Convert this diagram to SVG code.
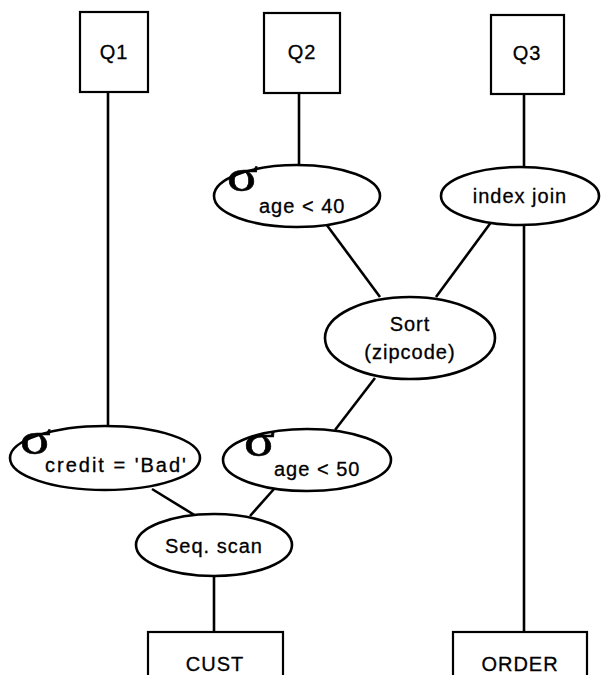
<svg xmlns="http://www.w3.org/2000/svg" width="605" height="675" viewBox="0 0 605 675">
  <style>
    .box { fill: #fff; stroke: #000; stroke-width: 2.2; }
    .op { fill: #fff; stroke: #000; stroke-width: 2.6; }
    .edge { stroke: #000; stroke-width: 2.6; fill: none; }
    .lbl { font-family: "Liberation Sans", Arial, sans-serif; font-size: 20px; fill: #000; stroke: #000; stroke-width: 0.3; text-anchor: middle; letter-spacing: 1px; }
    .sub { font-family: "Liberation Sans", Arial, sans-serif; font-size: 20px; fill: #000; stroke: #000; stroke-width: 0.3; letter-spacing: 1px; }
    .sig { font-family: "Liberation Serif", "DejaVu Serif", serif; font-size: 46px; fill: #000; stroke: #000; stroke-width: 0.6; }
  </style>
  <rect width="605" height="675" fill="#fff"/>

  <!-- plan edges -->
  <g id="connectors">
    <line class="edge" x1="108" y1="92" x2="108" y2="426"/>
    <line class="edge" x1="299" y1="93" x2="299" y2="165"/>
    <line class="edge" x1="524" y1="94" x2="524" y2="167"/>
    <line class="edge" x1="326" y1="224" x2="380" y2="297"/>
    <line class="edge" x1="492" y1="221" x2="436" y2="297"/>
    <line class="edge" x1="375" y1="378" x2="335" y2="430"/>
    <line class="edge" x1="524" y1="225" x2="524" y2="632"/>
    <line class="edge" x1="152" y1="489" x2="196" y2="516"/>
    <line class="edge" x1="274" y1="489" x2="250" y2="516"/>
    <line class="edge" x1="214" y1="575" x2="214" y2="632"/>
  </g>

  <!-- queries -->
  <g id="q1">
    <rect class="box" x="80" y="12" width="68" height="80"/>
    <text class="lbl" x="114" y="59">Q1</text>
  </g>
  <g id="q2">
    <rect class="box" x="264" y="13" width="76" height="80"/>
    <text class="lbl" x="302" y="59">Q2</text>
  </g>
  <g id="q3">
    <rect class="box" x="491" y="15" width="73" height="79"/>
    <text class="lbl" x="527" y="60">Q3</text>
  </g>

  <!-- operators -->
  <g id="select-age40">
    <ellipse class="op" cx="297" cy="196" rx="83" ry="31"/>
    <text class="sig" transform="translate(227,191) scale(1.25,1)">σ</text>
    <text class="sub" x="259" y="213">age &lt; 40</text>
  </g>
  <g id="index-join">
    <ellipse class="op" cx="520" cy="196" rx="79" ry="29"/>
    <text class="lbl" x="520" y="203">index  join</text>
  </g>
  <g id="sort">
    <ellipse class="op" cx="410" cy="338" rx="85" ry="41"/>
    <text class="lbl" x="410" y="331">Sort</text>
    <text class="lbl" x="410" y="359">(zipcode)</text>
  </g>
  <g id="select-credit">
    <ellipse class="op" cx="105" cy="458" rx="95" ry="32"/>
    <text class="sig" transform="translate(20,454) scale(1.25,1)">σ</text>
    <text class="sub" x="45" y="472" style="letter-spacing:2px">credit = 'Bad'</text>
  </g>
  <g id="select-age50">
    <ellipse class="op" cx="307" cy="460" rx="84" ry="31"/>
    <text class="sig" transform="translate(244,456) scale(1.25,1)">σ</text>
    <text class="sub" x="274" y="476">age &lt; 50</text>
  </g>
  <g id="seq-scan">
    <ellipse class="op" cx="214" cy="545" rx="78" ry="31"/>
    <text class="lbl" x="214" y="553">Seq.  scan</text>
  </g>

  <!-- base tables -->
  <g id="cust">
    <rect class="box" x="148" y="632" width="135" height="60"/>
    <text class="lbl" x="215" y="671">CUST</text>
  </g>
  <g id="order">
    <rect class="box" x="453" y="632" width="134" height="60"/>
    <text class="lbl" x="520" y="671">ORDER</text>
  </g>
</svg>
